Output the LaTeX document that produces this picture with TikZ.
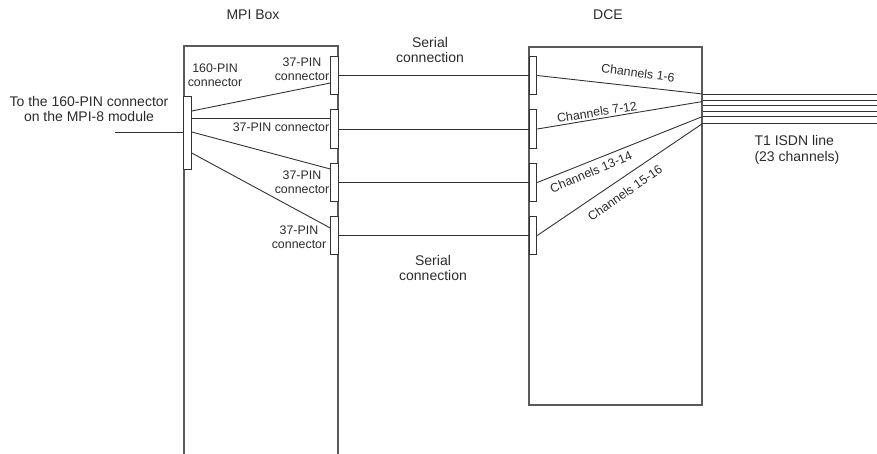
\documentclass[tikz,border=0pt]{standalone}
\usepackage{fontspec}
\setmainfont{Liberation Sans}
\definecolor{WireGray}{HTML}{333333}
\definecolor{BoxGray}{HTML}{5A5A5A}
\definecolor{TextGray}{HTML}{2B2B2B}
\tikzset{every node/.style={font=\fontsize{12.4}{14}\selectfont,text=TextGray},
 headline/.style={font=\fontsize{14}{15.5}\selectfont,align=center},
 lbl/.style={align=center,inner sep=0pt},
 box/.style={draw=BoxGray,line width=1.2pt,inner sep=0pt},
 plug/.style={draw=WireGray,fill=white,line width=1pt,inner sep=0pt,minimum width=7.5pt},
 wire/.style={draw=WireGray,line width=0.9pt}}
\begin{document}
\begin{tikzpicture}[x=1pt,y=-1pt]
\useasboundingbox (0,0) rectangle (877,453);
\clip (0,0) rectangle (877,453);
% boxes
\node[box,minimum width=154pt,minimum height=430pt] (mpi) at (261,261) {};
\node[box,minimum width=173pt,minimum height=358pt] (dce) at (615.5,226) {};
\node[headline] (mpititle) at (253,15) {MPI Box};
\node[headline] (dcetitle) at (608,15) {DCE};
% connectors and serial lines
\node[plug,minimum height=73pt] (pin160) at (187.5,132.5) {};
\foreach \n/\y in {a/75.5,b/129,c/182.5,d/235.5}{
  \node[plug,minimum height=38.5pt] (mpi\n) at (334.5,\y) {};
  \node[plug,minimum height=38.5pt] (dce\n) at (533,\y) {};
  \draw[wire] (mpi\n) -- (dce\n);
}
\coordinate (module) at (115,132.5);
\draw[wire] (module) -- (pin160);
\draw[wire] (pin160.east |- 0,111) -- (mpia.west |- 0,83);
\draw[wire] (pin160.east |- 0,118) -- (mpib.west |- 0,118);
\draw[wire] (pin160.east |- 0,132) -- (mpic.west |- 0,169);
\draw[wire] (pin160.east |- 0,153) -- (mpid.west |- 0,228);
% channels
\draw[wire] (dcea.east) -- (dce.east |- 0,94);
\draw[wire] (dceb.east) -- (dce.east |- 0,101.5);
\draw[wire] (dcec.east) -- (dce.east |- 0,116.5);
\draw[wire] (dced.east) -- (dce.east |- 0,123.5);
\coordinate (lineend) at (877,0);
\foreach \y in {94,100.5,105.5,111,116.5,123.5}
  \draw[wire] (dce.east |- 0,\y) -- (lineend |- 0,\y);
% labels
\node[headline] (modtext) at (89,109) {To the 160-PIN connector\\on the MPI-8 module};
\node[lbl] (pin160txt) at (215,75) {160-PIN\\connector};
\node[lbl] (mpiatxt) at (302,69) {37-PIN\\connector};
\node[lbl] (mpibtxt) at (281,127.5) {37-PIN connector};
\node[lbl] (mpictxt) at (302,182.5) {37-PIN\\connector};
\node[lbl] (mpidtxt) at (299,237) {37-PIN\\connector};
\node[headline] (serialtop) at (430,50) {Serial\\connection};
\node[headline] (serialbot) at (433,268) {Serial\\connection};
\node[lbl,rotate=-7] (ch16) at (638,73) {Channels 1-6};
\node[lbl,rotate=9] (ch712) at (597,112) {Channels 7-12};
\node[lbl,rotate=23] (ch1314) at (591,172) {Channels 13-14};
\node[lbl,rotate=35] (ch1516) at (625,193) {Channels 15-16};
\node[headline,align=left,anchor=west] (t1txt) at (751,150) {T1 ISDN line\\(23 channels)};
\end{tikzpicture}
\end{document}
